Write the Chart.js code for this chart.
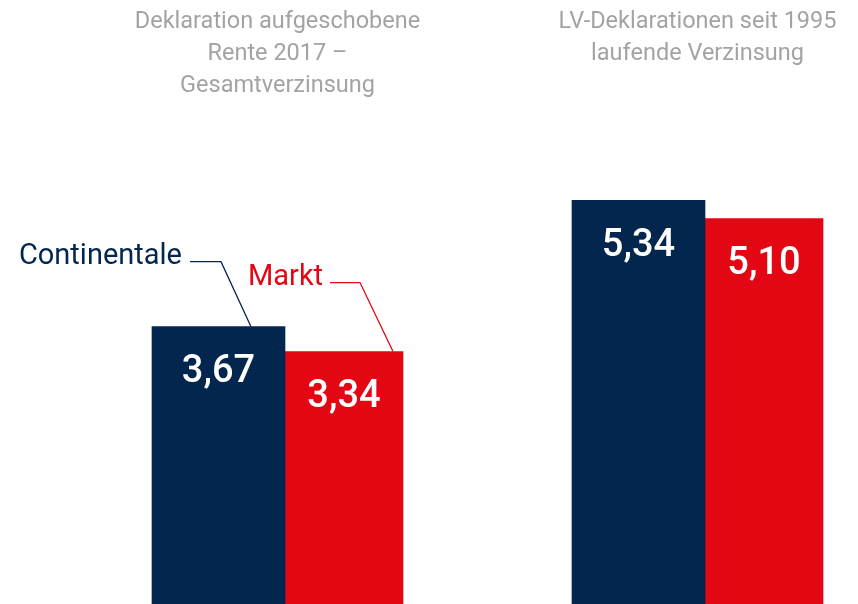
<!DOCTYPE html>
<html>
<head>
<meta charset="utf-8">
<script src="https://cdn.jsdelivr.net/npm/chart.js@4/dist/chart.umd.min.js"></script>
<style>
  html, body { margin: 0; padding: 0; background: #fff; }
</style>
</head>
<body>
<canvas id="chart" width="858" height="604"></canvas>
<script>
// Data
const categories = [
  ['Deklaration aufgeschobene', 'Rente 2017 –', 'Gesamtverzinsung'],
  ['LV-Deklarationen seit 1995', 'laufende Verzinsung']
];
const seriesNames = ['Continentale', 'Markt'];
const continentale = [3.67, 5.34];
const markt = [3.34, 5.10];

const NAVY = '#03264f';
const RED = '#e30613';
const GREY = '#a3a3a3';
const FONT = 'Roboto, "Open Sans", sans-serif';

const fmt = v => v.toFixed(2).replace('.', ',');

// Titles, value labels and the two callouts
const annotate = {
  id: 'annotate',
  afterDatasetsDraw(chart) {
    const ctx = chart.ctx;
    const navyBars = chart.getDatasetMeta(0).data;
    const redBars = chart.getDatasetMeta(1).data;

    ctx.save();

    // values inside bars
    ctx.font = '500 38px ' + FONT;
    ctx.fillStyle = '#fff';
    ctx.textAlign = 'center';
    ctx.textBaseline = 'middle';
    chart.data.datasets.forEach((ds, i) => {
      chart.getDatasetMeta(i).data.forEach((bar, j) => {
        ctx.fillText(fmt(ds.data[j]), bar.x, bar.y + 46);
      });
    });

    // group titles
    ctx.font = '23.5px ' + FONT;
    ctx.fillStyle = GREY;
    ctx.textBaseline = 'top';
    categories.forEach((lines, j) => {
      const n = navyBars[j], r = redBars[j];
      const cx = ((n.x - n.width / 2) + (r.x + r.width / 2)) / 2;
      lines.forEach((line, k) => ctx.fillText(line, cx, 10 + k * 32));
    });

    // callouts on the first group
    const n = navyBars[0], r = redBars[0];
    const nLeft = n.x - n.width / 2;
    const rLeft = r.x - r.width / 2, rRight = r.x + r.width / 2;

    ctx.font = '29px ' + FONT;
    ctx.textBaseline = 'alphabetic';
    ctx.textAlign = 'right';
    ctx.fillStyle = NAVY;
    ctx.fillText(seriesNames[0], nLeft + 30, n.y - 63);
    ctx.strokeStyle = NAVY;
    ctx.lineWidth = 1.3;
    ctx.beginPath();
    ctx.moveTo(nLeft + 38, n.y - 65);
    ctx.lineTo(nLeft + 69, n.y - 65);
    ctx.lineTo(nLeft + 99, n.y);
    ctx.stroke();

    ctx.textAlign = 'left';
    ctx.fillStyle = RED;
    ctx.fillText(seriesNames[1], rLeft - 37, r.y - 67);
    ctx.strokeStyle = RED;
    ctx.beginPath();
    ctx.moveTo(rLeft + 45, r.y - 69);
    ctx.lineTo(rLeft + 75, r.y - 69);
    ctx.lineTo(rRight - 10, r.y);
    ctx.stroke();

    ctx.restore();
  }
};

new Chart(document.getElementById('chart'), {
  type: 'bar',
  data: {
    labels: categories,
    datasets: [
      {
        label: seriesNames[0],
        data: continentale,
        backgroundColor: NAVY,
        barThickness: 133,
        clip: false
      },
      {
        label: seriesNames[1],
        data: markt,
        backgroundColor: RED,
        barThickness: 118,
        clip: false
      }
    ]
  },
  options: {
    responsive: false,
    animation: false,
    layout: { padding: { left: 285, right: 153, top: 75, bottom: 0 } },
    plugins: {
      legend: { display: false },
      tooltip: { enabled: false }
    },
    scales: {
      x: { offset: false, display: false },
      y: { min: 0, max: 7, display: false }
    }
  },
  plugins: [annotate]
});
</script>
</body>
</html>
